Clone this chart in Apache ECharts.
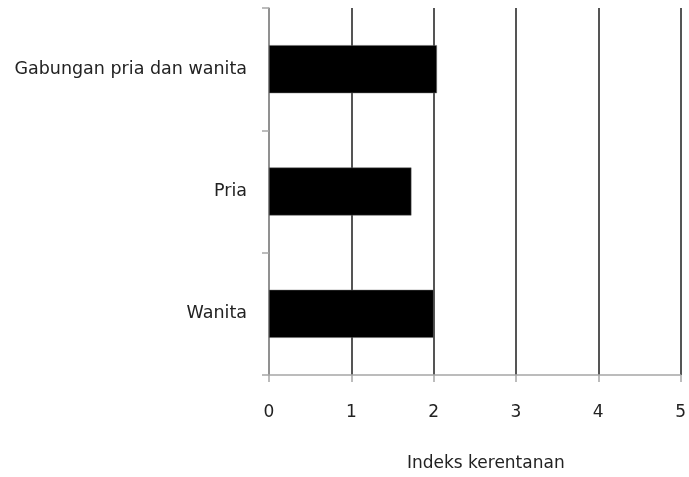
<!DOCTYPE html>
<html><head><meta charset="utf-8">
<script src="https://cdn.jsdelivr.net/npm/echarts@6/dist/echarts.min.js"></script>
<style>html,body{margin:0;padding:0;background:#fff;overflow:hidden}#c{width:689px;height:477px}</style>
</head><body><div id="c"></div>
<script>
const categories = ["Gabungan pria dan wanita", "Pria", "Wanita"];
const values = [2.04, 1.73, 2.0];
const xTicks = [0, 1, 2, 3, 4, 5];
const xName = "Indeks kerentanan";

const chart = echarts.init(document.getElementById('c'));
chart.setOption({
  animation: false,
  grid: {left: 269, right: 0, top: 8, bottom: 99, containLabel: false},
  xAxis: {
    type: 'value', min: xTicks[0], max: xTicks[xTicks.length-1], interval: 1,
    name: xName, nameLocation: 'middle', nameGap: 80,
    nameTextStyle: {fontFamily: 'DejaVu Sans', fontSize: 17, color: '#222', padding: [0, 0, 0, 22]},
    axisLine: {show: true, lineStyle: {color: '#a6a6a6', width: 1.5}},
    axisTick: {show: true, length: 7, lineStyle: {color: '#a6a6a6', width: 1.5}},
    axisLabel: {margin: 29, fontFamily: 'DejaVu Sans', fontSize: 17, color: '#222'},
    splitLine: {show: true, lineStyle: {color: '#555', width: 2}}
  },
  yAxis: {
    type: 'category', data: categories, inverse: true,
    axisLine: {show: true, lineStyle: {color: '#a6a6a6', width: 1.5}},
    axisTick: {show: true, length: 7, lineStyle: {color: '#a6a6a6', width: 1.5}},
    axisLabel: {margin: 22, fontFamily: 'DejaVu Sans', fontSize: 17.5, color: '#222'}
  },
  series: [{
    type: 'bar', data: values, barWidth: 48,
    itemStyle: {color: '#000', borderColor: '#666', borderWidth: 0.5}
  }]
});
</script></body></html>
